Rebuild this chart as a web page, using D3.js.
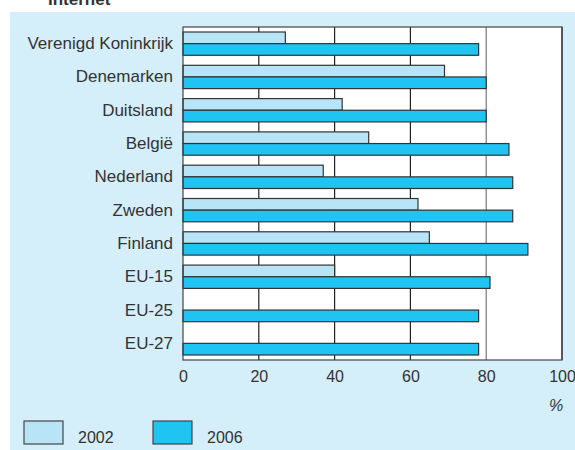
<!DOCTYPE html>
<html>
<head>
<meta charset="utf-8">
<script src="https://cdn.jsdelivr.net/npm/d3@7"></script>
<style>
    body { margin: 0; background: #fff; }
    svg { display: block; font-family: "Liberation Sans", Arial, sans-serif; }
</style>
</head>
<body>
<div id="chart"></div>
<script>
//Datos
let landen = ['Verenigd Koninkrijk', 'Denemarken', 'Duitsland', 'België', 'Nederland', 'Zweden', 'Finland', 'EU-15', 'EU-25', 'EU-27'];
let waarden_2002 = [27, 69, 42, 49, 37, 62, 65, 40, null, null];
let waarden_2006 = [78, 80, 80, 86, 87, 87, 91, 81, 78, 78];
let ticks_x = [0, 20, 40, 60, 80, 100];
let jaren = ['2002', '2006'];
let kleuren = ['#b8e4f8', '#1fc4f2'];

let innerData = landen.map(function(d, i) {
    return { land: d, v2002: waarden_2002[i], v2006: waarden_2006[i] };
});

let width = 575, height = 450;
let margin = {top: 27, right: 13, bottom: 90, left: 183};

let svg = d3.select('#chart').append('svg')
    .attr('width', width)
    .attr('height', height);

//Fondo
svg.append('rect')
    .attr('x', 10).attr('y', 12)
    .attr('width', width - 10).attr('height', height - 12)
    .attr('fill', '#d4eefa');

svg.append('text')
    .attr('x', 48).attr('y', 5)
    .attr('font-size', 17).attr('font-weight', 'bold')
    .attr('fill', '#333')
    .text('Internet');

let chart = svg.append('g')
    .attr('transform', 'translate(' + margin.left + ',' + margin.top + ')');

let w = width - margin.left - margin.right,
    h = 360 - margin.top;

let x_c = d3.scaleLinear().domain([0, 100]).range([0, w]);
let y_c = d3.scaleBand().domain(landen).range([0, h]).paddingInner(0.3).paddingOuter(0.15);

chart.append('rect')
    .attr('width', w).attr('height', h)
    .attr('fill', '#fff');

//Rejilla
chart.selectAll('.grid')
    .data(ticks_x.slice(1))
    .enter()
    .append('line')
    .attr('x1', function(d) { return x_c(d); })
    .attr('x2', function(d) { return x_c(d); })
    .attr('y1', 0).attr('y2', h)
    .attr('stroke', function(d) { return d == 80 ? '#777' : '#222'; })
    .attr('stroke-width', 1.2);

//Barras
let bh = y_c.bandwidth() / 2;

chart.selectAll('.bar-2002')
    .data(innerData.filter(function(d) { return d.v2002 != null; }))
    .enter()
    .append('rect')
    .attr('x', 0)
    .attr('y', function(d) { return y_c(d.land); })
    .attr('width', function(d) { return x_c(d.v2002); })
    .attr('height', bh)
    .attr('fill', kleuren[0])
    .attr('stroke', '#333').attr('stroke-width', 1.2);

chart.selectAll('.bar-2006')
    .data(innerData)
    .enter()
    .append('rect')
    .attr('x', 0)
    .attr('y', function(d) { return y_c(d.land) + bh; })
    .attr('width', function(d) { return x_c(d.v2006); })
    .attr('height', bh)
    .attr('fill', kleuren[1])
    .attr('stroke', '#333').attr('stroke-width', 1.2);

//Marco
chart.append('rect')
    .attr('width', w).attr('height', h)
    .attr('fill', 'none')
    .attr('stroke', '#444').attr('stroke-width', 1.2);

//Eje X
chart.append('g')
    .attr('transform', 'translate(0,' + h + ')')
    .call(d3.axisBottom(x_c).tickValues(ticks_x).tickSize(0).tickPadding(11))
    .attr('font-family', null)
    .attr('font-size', 16)
    .call(function(g) { g.select('.domain').remove(); })
    .call(function(g) { g.selectAll('text').attr('fill', '#333'); });

//Eje Y
chart.append('g')
    .call(d3.axisLeft(y_c).tickSize(0).tickPadding(10))
    .attr('font-family', null)
    .attr('font-size', 17)
    .call(function(g) { g.select('.domain').remove(); })
    .call(function(g) { g.selectAll('text').attr('fill', '#333'); });

svg.append('text')
    .attr('x', 556).attr('y', 411)
    .attr('text-anchor', 'middle')
    .attr('font-size', 16).attr('font-style', 'italic')
    .attr('fill', '#333')
    .text('%');

//Leyenda
let legend = svg.selectAll('.legend')
    .data(jaren)
    .enter()
    .append('g')
    .attr('transform', function(d, i) { return 'translate(' + (24 + i * 129) + ',421)'; });

legend.append('rect')
    .attr('width', 39).attr('height', 23)
    .attr('fill', function(d, i) { return kleuren[i]; })
    .attr('stroke', '#444').attr('stroke-width', 1.2);

legend.append('text')
    .attr('x', 54).attr('y', 22)
    .attr('font-size', 16).attr('fill', '#333')
    .text(function(d) { return d; });
</script>
</body>
</html>
